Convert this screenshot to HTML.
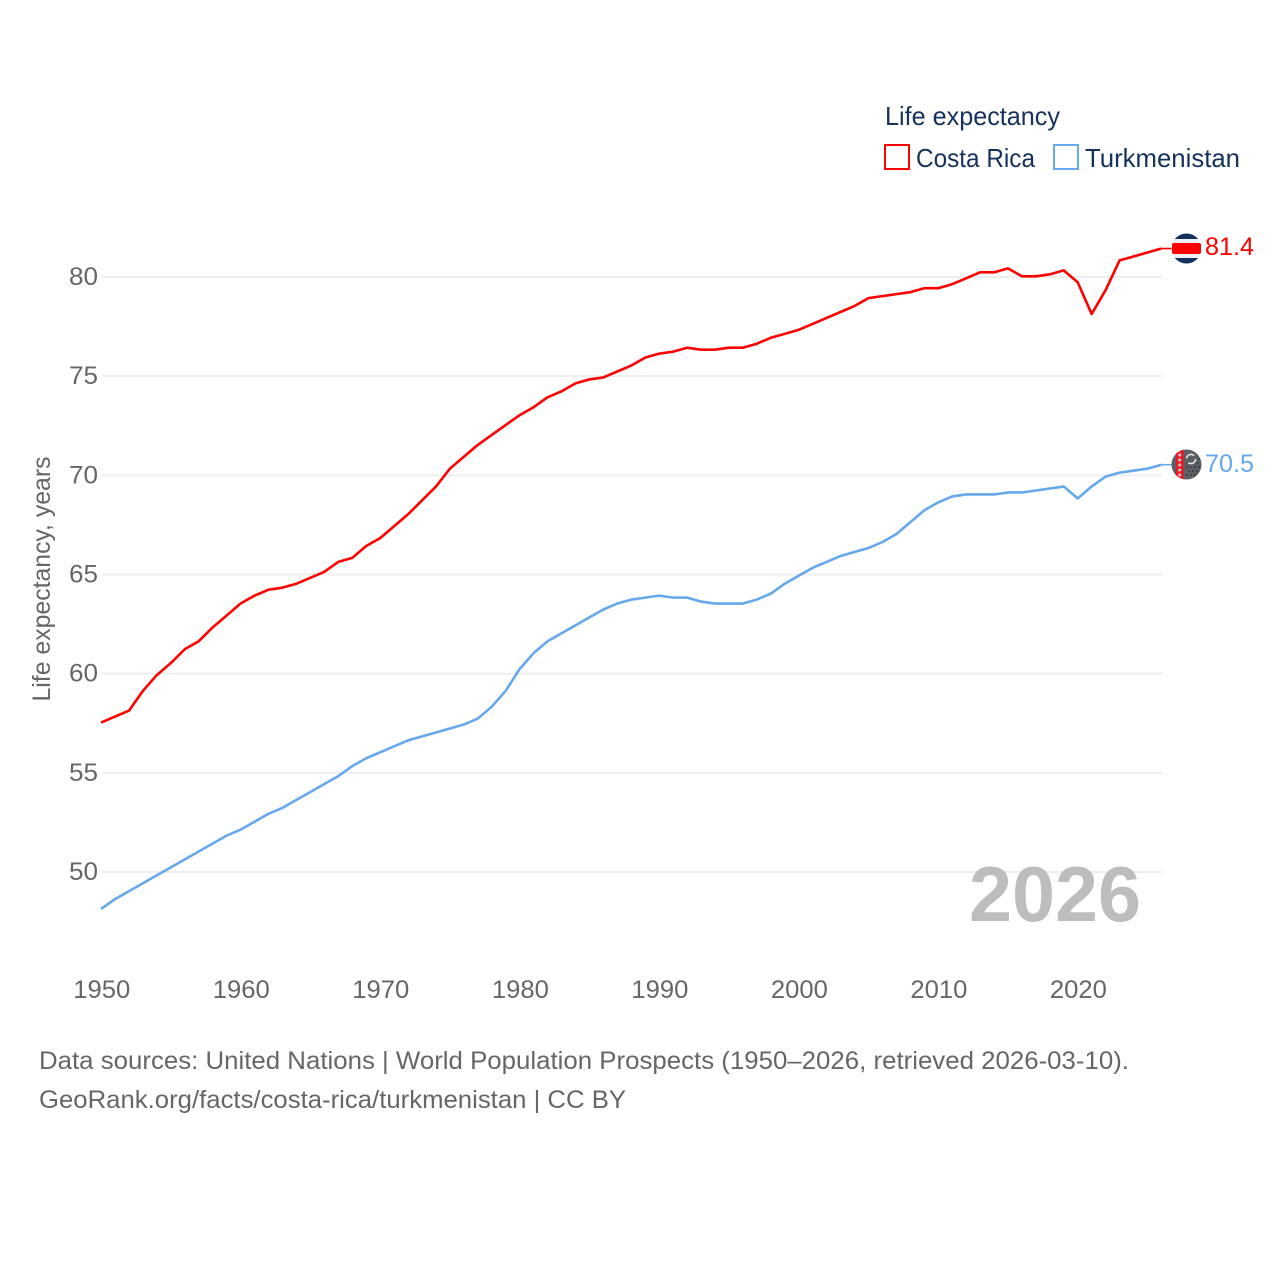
<!DOCTYPE html>
<html lang="en">
<head>
<meta charset="utf-8">
<title>Life expectancy: Costa Rica vs Turkmenistan</title>
<style>
html,body{margin:0;padding:0;background:#fff;}
svg{display:block;font-family:"Liberation Sans",sans-serif;}
</style>
</head>
<body>
<svg id="chart" width="1280" height="1280" viewBox="0 0 1280 1280" xmlns="http://www.w3.org/2000/svg">
  <rect width="1280" height="1280" fill="#ffffff"/>
  <g id="grid"></g>
  <g id="yticks"></g>
  <g id="xticks"></g>
  <text transform="translate(50,579) rotate(-90)" text-anchor="middle" font-size="25" fill="#666666" textLength="245" lengthAdjust="spacingAndGlyphs">Life expectancy, years</text>
  <text x="969" y="921" font-size="78" font-weight="700" fill="#bdbdbd" textLength="172" lengthAdjust="spacingAndGlyphs">2026</text>
  <g id="series"></g>

  <g>
    <clipPath id="crClip"><circle cx="1186.5" cy="248.5" r="15"/></clipPath>
    <g clip-path="url(#crClip)">
      <rect x="1171" y="233" width="31" height="31" fill="#eef0f3"/>
      <rect x="1171" y="233" width="31" height="6" fill="#14305e"/>
      <rect x="1171" y="258" width="31" height="6" fill="#14305e"/>
    </g>
    <rect x="1172" y="243" width="29" height="11" rx="2" fill="#ff0000"/>
  </g>
  <g>
    <clipPath id="tmClip"><circle cx="1186.5" cy="464.5" r="15"/></clipPath>
    <g clip-path="url(#tmClip)">
      <rect x="1171" y="449" width="31" height="31" fill="#5c6065"/>
      <rect x="1176" y="449" width="7.5" height="31" fill="#f0141e"/>
      <g fill="#c9b9b9">
        <circle cx="1179.7" cy="455" r="1.6"/><circle cx="1179.7" cy="460" r="1.6"/>
        <circle cx="1179.7" cy="465" r="1.6"/><circle cx="1179.7" cy="470" r="1.6"/>
        <circle cx="1179.7" cy="475" r="1.6"/>
      </g>
      <circle cx="1191" cy="459" r="4.6" fill="none" stroke="#e8e8e8" stroke-width="1.5" stroke-dasharray="10 5"/>
      <g fill="#2f3338">
        <circle cx="1187" cy="467" r="0.9"/><circle cx="1191" cy="467" r="0.9"/><circle cx="1195" cy="467" r="0.9"/><circle cx="1199" cy="467" r="0.9"/>
        <circle cx="1189" cy="471" r="0.9"/><circle cx="1193" cy="471" r="0.9"/><circle cx="1197" cy="471" r="0.9"/>
        <circle cx="1187" cy="475" r="0.9"/><circle cx="1191" cy="475" r="0.9"/><circle cx="1195" cy="475" r="0.9"/>
        <circle cx="1197" cy="463" r="0.9"/><circle cx="1199" cy="459" r="0.9"/>
      </g>
    </g>
  </g>
  <text id="label-cr" x="1205" y="255" font-size="25" fill="#ff0000" textLength="49" lengthAdjust="spacingAndGlyphs"></text>
  <text id="label-tm" x="1205" y="472" font-size="25" fill="#66a8ec" textLength="49" lengthAdjust="spacingAndGlyphs"></text>

  <g>
    <text x="885" y="125" font-size="26" fill="#15325c" textLength="175" lengthAdjust="spacingAndGlyphs">Life expectancy</text>
    <g>
      <rect x="885" y="145" width="24" height="24" fill="#ffffff" stroke="#ff0000" stroke-width="2"/>
      <text x="916" y="167" font-size="26" fill="#15325c" textLength="119" lengthAdjust="spacingAndGlyphs">Costa Rica</text>
    </g>
    <g>
      <rect x="1054" y="145" width="24" height="24" fill="#ffffff" stroke="#66a8ec" stroke-width="2"/>
      <text x="1085" y="167" font-size="26" fill="#15325c" textLength="155" lengthAdjust="spacingAndGlyphs">Turkmenistan</text>
    </g>
  </g>

  <text x="39" y="1069" font-size="25" fill="#666666" textLength="1090" lengthAdjust="spacingAndGlyphs">Data sources: United Nations | World Population Prospects (1950–2026, retrieved 2026-03-10).</text>
  <text x="39" y="1108" font-size="25" fill="#666666" textLength="587" lengthAdjust="spacingAndGlyphs">GeoRank.org/facts/costa-rica/turkmenistan | CC BY</text>
</svg>
<script>
const startYear = 1950;
const xTickLabels = [1950, 1960, 1970, 1980, 1990, 2000, 2010, 2020];
const yTickLabels = [50, 55, 60, 65, 70, 75, 80];
const costaRica = [57.5,57.8,58.1,59.1,59.9,60.5,61.2,61.6,62.3,62.9,63.5,63.9,64.2,64.3,64.5,64.8,65.1,65.6,65.8,66.4,66.8,67.4,68.0,68.7,69.4,70.3,70.9,71.5,72.0,72.5,73.0,73.4,73.9,74.2,74.6,74.8,74.9,75.2,75.5,75.9,76.1,76.2,76.4,76.3,76.3,76.4,76.4,76.6,76.9,77.1,77.3,77.6,77.9,78.2,78.5,78.9,79.0,79.1,79.2,79.4,79.4,79.6,79.9,80.2,80.2,80.4,80.0,80.0,80.1,80.3,79.7,78.1,79.3,80.8,81.0,81.2,81.4];
const turkmenistan = [48.1,48.6,49.0,49.4,49.8,50.2,50.6,51.0,51.4,51.8,52.1,52.5,52.9,53.2,53.6,54.0,54.4,54.8,55.3,55.7,56.0,56.3,56.6,56.8,57.0,57.2,57.4,57.7,58.3,59.1,60.2,61.0,61.6,62.0,62.4,62.8,63.2,63.5,63.7,63.8,63.9,63.8,63.8,63.6,63.5,63.5,63.5,63.7,64.0,64.5,64.9,65.3,65.6,65.9,66.1,66.3,66.6,67.0,67.6,68.2,68.6,68.9,69.0,69.0,69.0,69.1,69.1,69.2,69.3,69.4,68.8,69.4,69.9,70.1,70.2,70.3,70.5];

const NS = 'http://www.w3.org/2000/svg';
const xScale = function (year) { return 101.1 + (year - 1950) * (1161.4 - 101.1) / 76; };
const yScale = function (v) { return 872 - (v - 50) * (872 - 277) / 30; };
function make(tag, attrs, parent) {
  const el = document.createElementNS(NS, tag);
  Object.keys(attrs).forEach(function (k) { el.setAttribute(k, attrs[k]); });
  parent.appendChild(el);
  return el;
}
const gridG = document.getElementById('grid');
const yG = document.getElementById('yticks');
const xG = document.getElementById('xticks');
const seriesG = document.getElementById('series');

yTickLabels.forEach(function (v) {
  const line = make('line', {x1: 102, x2: 1162, y1: yScale(v), y2: yScale(v), stroke: '#eeeeee', 'stroke-width': 2}, gridG);
  
  
  const t = make('text', {x: 98, y: yScale(v) + 8, 'text-anchor': 'end', 'font-size': 25, fill: '#666666', textLength: 29, lengthAdjust: 'spacingAndGlyphs'}, yG);
  
  
  t.textContent = v;
});
xTickLabels.forEach(function (y) {
  const t = make('text', {x: xScale(y) + 0.7, y: 998, 'text-anchor': 'middle', 'font-size': 25, fill: '#666666', textLength: 57, lengthAdjust: 'spacingAndGlyphs'}, xG);
  
  
  t.textContent = y;
});
function drawSeries(values, color, name, labelId) {
  const pts = values.map(function (v, i) { return xScale(startYear + i).toFixed(2) + ',' + (yScale(v) - 0.7).toFixed(2); });
  const line = make('polyline', {points: pts.join(' '), fill: 'none', stroke: color, 'stroke-width': 2.6, 'stroke-linejoin': 'round'}, seriesG);
  
  
  const last = values[values.length - 1];
  const xEnd = xScale(startYear + values.length - 1);
  const conn = make('line', {x1: xEnd, x2: 1172, y1: yScale(last) - 0.7, y2: yScale(last) - 0.7, stroke: color, 'stroke-width': 1.6}, seriesG);
  
  
  document.getElementById(labelId).textContent = last.toFixed(1);
}
drawSeries(costaRica, '#ff0000', 'costa-rica', 'label-cr');
drawSeries(turkmenistan, '#66a8ec', 'turkmenistan', 'label-tm');
</script>
</body>
</html>
